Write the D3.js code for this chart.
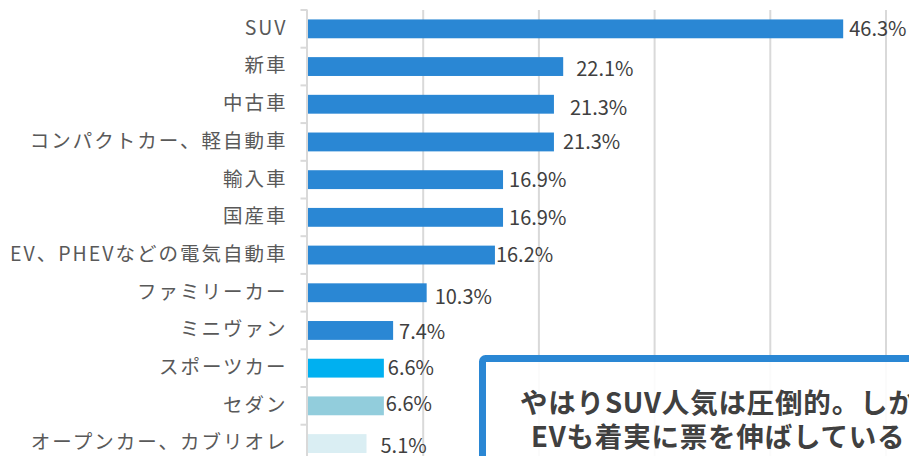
<!DOCTYPE html>
<html>
<head>
<meta charset="utf-8">
<script src="https://cdn.jsdelivr.net/npm/d3@7"></script>
<style>
  body { margin: 0; background: #fff; }
  svg { display: block; font-family: "Noto Sans CJK JP", "Noto Sans", sans-serif; }
</style>
</head>
<body>
<svg id="chart" width="909" height="456"></svg>
<script>
// categories, top to bottom
var categories = ["SUV", "新車", "中古車", "コンパクトカー、軽自動車", "輸入車", "国産車",
    "EV、PHEVなどの電気自動車", "ファミリーカー", "ミニヴァン", "スポーツカー", "セダン", "オープンカー、カブリオレ"];
var values = [46.3, 22.1, 21.3, 21.3, 16.9, 16.9, 16.2, 10.3, 7.4, 6.6, 6.6, 5.1];
var gridTicks = [10, 20, 30, 40, 50];
var noteLines = ["やはりSUV人気は圧倒的。しかし", "EVも着実に票を伸ばしている"];

// bar colours (last three are highlighted differently)
var barColors = ["#2a87d4", "#2a87d4", "#2a87d4", "#2a87d4", "#2a87d4", "#2a87d4",
    "#2a87d4", "#2a87d4", "#2a87d4", "#00b0f0", "#92cddc", "#daeef3"];

// hand-placed data label nudges [dx, dy] like in the original sheet
var labelNudge = [[0, 0], [7, 2], [10, 4], [3, 0], [0, 0], [0, 0],
    [-5, 0], [2, 4], [0, 1], [-2, 0], [-4, -2], [8, 2]];

var svg = d3.select("#chart");

var x = d3.scaleLinear().domain([0, 50]).range([307.5, 886]);
var y = d3.scaleBand()
    .domain(categories)
    .range([10, 10 + 12 * 37.7])
    .paddingInner(0.5)
    .paddingOuter(0.25);

var bottom = 470;

// vertical gridlines
svg.append("g").selectAll("line")
    .data(gridTicks)
    .enter().append("line")
    .attr("x1", d => x(d)).attr("x2", d => x(d))
    .attr("y1", 10).attr("y2", bottom)
    .style("stroke", "#d9d9d9")
    .style("stroke-width", 2);

// category axis line + tick marks between bands
svg.append("line")
    .attr("x1", x(0) - 0.5).attr("x2", x(0) - 0.5)
    .attr("y1", 10).attr("y2", bottom)
    .style("stroke", "#d9d9d9")
    .style("stroke-width", 2);

var bounds = d3.range(categories.length + 1).map(i => y.range()[0] + i * y.step());
svg.append("g").selectAll("line")
    .data(bounds)
    .enter().append("line")
    .attr("x1", x(0) - 7).attr("x2", x(0))
    .attr("y1", d => d).attr("y2", d => d)
    .style("stroke", "#d9d9d9")
    .style("stroke-width", 2);

// category labels
var yAxis = svg.append("g")
    .attr("transform", "translate(" + x(0) + ",0)")
    .call(d3.axisLeft(y).tickSize(0).tickPadding(20));
yAxis.select(".domain").remove();
yAxis.selectAll("text")
    .style("font-family", "'Noto Sans CJK JP'")
    .style("font-size", "19.5px")
    .style("letter-spacing", "2px")
    .style("fill", "#595959")
    .attr("dy", "0.3em");

// bars
svg.append("g").selectAll("rect")
    .data(categories)
    .enter().append("rect")
    .attr("x", x(0) + 0.5)
    .attr("y", d => y(d))
    .attr("width", (d, i) => x(values[i]) - x(0) - 0.5)
    .attr("height", y.bandwidth())
    .style("fill", (d, i) => barColors[i]);

// value labels
svg.append("g").selectAll("text")
    .data(categories)
    .enter().append("text")
    .attr("x", (d, i) => x(values[i]) + 6 + labelNudge[i][0])
    .attr("y", (d, i) => y(d) + y.bandwidth() / 2 + labelNudge[i][1])
    .attr("dy", "0.36em")
    .style("font-size", "20px")
    .style("fill", "#404040")
    .text((d, i) => values[i].toFixed(1) + "%");

// callout box
var note = svg.append("g");
note.append("rect")
    .attr("x", 482.5).attr("y", 358.5)
    .attr("width", 480).attr("height", 140)
    .attr("rx", 3)
    .style("fill", "#fff")
    .style("fill-opacity", 0.88)
    .style("stroke", "#2a87d4")
    .style("stroke-width", 7);

note.selectAll("text")
    .data(noteLines)
    .enter().append("text")
    .attr("x", (d, i) => i === 0 ? 520 : 531)
    .attr("y", (d, i) => 403 + i * 34)
    .attr("dy", "0.36em")
    .style("font-size", "27.5px")
    .style("letter-spacing", "0.8px")
    .style("font-weight", "bold")
    .style("fill", "#404040")
    .text(d => d);
</script>
</body>
</html>
